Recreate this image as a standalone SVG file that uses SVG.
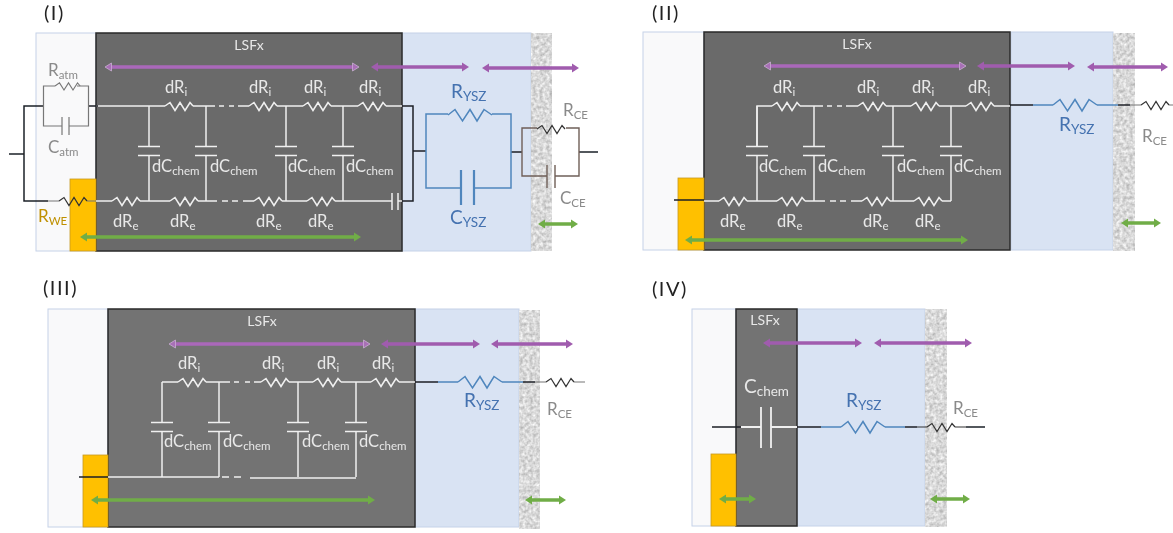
<svg xmlns="http://www.w3.org/2000/svg" width="1173" height="533" viewBox="0 0 1173 533">
<style>
text{font-family:Lato,"Open Sans","Liberation Sans",sans-serif}
.lbl{font-size:16.500px;fill:#e8e8e8}
.sub{font-size:11.500px}
.ttl{font-size:20px;fill:#222;letter-spacing:1.500px}
.lsf{font-size:14px;fill:#e8e8e8;text-anchor:middle}
.gr{font-size:17px;fill:#8a8a8a}
.bl{font-size:19px;fill:#4472b0}
.bs{font-size:13.500px}
.left{fill:#f9f9fa;stroke:#c5d2e8;stroke-width:1}
.lsfx{fill:#6b6b6b;stroke:#2a2a2a;stroke-width:1.5}
.ysz{fill:#d9e3f3;stroke:#c5d2e8;stroke-width:1}
.ce{fill:#ddd;filter:url(#porous)}
.au{fill:#ffc000;stroke:#c79a20;stroke-width:.8}
.w,.k,.b,.br,.g,.bk{fill:none;stroke-linejoin:miter}
.w{stroke:#f0f0f0;stroke-width:1.500}
.k{stroke:#1c1f26;stroke-width:1.500}
.b{stroke:#4f86bd;stroke-width:1.500}
.br{stroke:#6f5f58;stroke-width:1.400}
.g{stroke:#777;stroke-width:1.200}
.bk{stroke:#333;stroke-width:1.200}
.pu{stroke:#a05cae;stroke-width:3.500;marker-start:url(#hp);marker-end:url(#hp)}
.pl{stroke:#aa68ba;stroke-width:3.500;marker-start:url(#hpl);marker-end:url(#hpl)}
.gn{stroke:#70ad47;stroke-width:3.500;marker-start:url(#hg);marker-end:url(#hg)}
</style>
<defs>
<filter id="porous" x="0" y="0" width="100%" height="100%" color-interpolation-filters="sRGB">
<feTurbulence type="fractalNoise" baseFrequency="0.3" numOctaves="2" seed="4"/>
<feColorMatrix type="matrix" values="0.4 0 0 0 0.65 0.4 0 0 0 0.65 0.4 0 0 0 0.65 0 0 0 0 1"/>
</filter>
<filter id="soft" x="0" y="0" width="100%" height="100%"><feGaussianBlur stdDeviation="0.35"/></filter>
<marker id="hp" markerUnits="userSpaceOnUse" markerWidth="8" markerHeight="10" refX="1" refY="5" orient="auto-start-reverse"><path d="M0 .5L7 5L0 9.500z" fill="#a05cae"/></marker>
<marker id="hpl" markerUnits="userSpaceOnUse" markerWidth="8" markerHeight="10" refX="1" refY="5" orient="auto-start-reverse"><path d="M0.500 1L7 5L0.500 9z" fill="#a870b6" stroke="#c9aed2" stroke-width=".8"/></marker>
<marker id="hg" markerUnits="userSpaceOnUse" markerWidth="8" markerHeight="10" refX="1" refY="5" orient="auto-start-reverse"><path d="M0 .5L7 5L0 9.500z" fill="#70ad47"/></marker>
<path id="r" d="M0 0L5 -3.500L10 4.500L15 -3.500L20 4.500L25 -3.500L28 0"/>
<path id="rb" d="M0 0L7 -5.500L14.500 6L22 -5.500L29 6L36 -5.500L44 0"/>
<path id="c" d="M0 0V40.500M-11 40.500H11M-11 49.500H11M0 49.500V95"/>
</defs>
<rect width="1173" height="533" fill="#fff"/>
<g filter="url(#soft)">

<g id="panel-1">
<rect class="left" x="36" y="33" width="60" height="218"/>
<rect class="ysz" x="402" y="33" width="129" height="218"/>
<rect class="ce" x="531" y="33" width="21" height="218"/>
<rect class="lsfx" x="96" y="33" width="306" height="218"/>
<rect class="au" x="70" y="179" width="26" height="72"/>
<text class="ttl" x="44" y="20">(I)</text>
<text class="lsf" x="249" y="50">LSFx</text>
<text class="gr" x="48" y="76">R<tspan class="sub" dy="3">atm</tspan></text>
<text class="gr" x="48" y="153">C<tspan class="sub" dy="3">atm</tspan></text>
<text x="38" y="222" style="font-size:17px;fill:#bf9000">R<tspan class="sub" dy="3">WE</tspan></text>
<text class="lbl" x="165" y="93">dR<tspan class="sub" dy="3">i</tspan></text>
<text class="lbl" x="249" y="93">dR<tspan class="sub" dy="3">i</tspan></text>
<text class="lbl" x="304" y="93">dR<tspan class="sub" dy="3">i</tspan></text>
<text class="lbl" x="359" y="93">dR<tspan class="sub" dy="3">i</tspan></text>
<text class="lbl" x="113" y="227">dR<tspan class="sub" dy="3">e</tspan></text>
<text class="lbl" x="170" y="227">dR<tspan class="sub" dy="3">e</tspan></text>
<text class="lbl" x="256" y="227">dR<tspan class="sub" dy="3">e</tspan></text>
<text class="lbl" x="308" y="227">dR<tspan class="sub" dy="3">e</tspan></text>
<text class="lbl" x="152" y="172">dC<tspan class="sub" dy="3">chem</tspan></text>
<text class="lbl" x="210" y="172">dC<tspan class="sub" dy="3">chem</tspan></text>
<text class="lbl" x="288" y="172">dC<tspan class="sub" dy="3">chem</tspan></text>
<text class="lbl" x="346" y="172">dC<tspan class="sub" dy="3">chem</tspan></text>
<text class="bl" x="451" y="98">R<tspan class="bs" dy="3">YSZ</tspan></text>
<text class="bl" x="450" y="224">C<tspan class="bs" dy="3">YSZ</tspan></text>
<text class="gr" x="563" y="116">R<tspan class="sub" dy="3">CE</tspan></text>
<text class="gr" x="560" y="204">C<tspan class="sub" dy="3">CE</tspan></text>
</g>

<g id="panel-2">
<rect class="left" x="643" y="32" width="61" height="218"/>
<rect class="ysz" x="1011" y="32" width="102" height="218"/>
<rect class="ce" x="1113" y="33" width="22" height="218"/>
<rect class="lsfx" x="704" y="32" width="306" height="218"/>
<rect class="au" x="678" y="178" width="26" height="72"/>
<text class="ttl" x="652" y="20">(II)</text>
<text class="lsf" x="857" y="49">LSFx</text>
<text class="lbl" x="773" y="93">dR<tspan class="sub" dy="3">i</tspan></text>
<text class="lbl" x="857" y="93">dR<tspan class="sub" dy="3">i</tspan></text>
<text class="lbl" x="912" y="93">dR<tspan class="sub" dy="3">i</tspan></text>
<text class="lbl" x="968" y="93">dR<tspan class="sub" dy="3">i</tspan></text>
<text class="lbl" x="720" y="227">dR<tspan class="sub" dy="3">e</tspan></text>
<text class="lbl" x="777" y="227">dR<tspan class="sub" dy="3">e</tspan></text>
<text class="lbl" x="863" y="227">dR<tspan class="sub" dy="3">e</tspan></text>
<text class="lbl" x="915" y="227">dR<tspan class="sub" dy="3">e</tspan></text>
<text class="lbl" x="759" y="172">dC<tspan class="sub" dy="3">chem</tspan></text>
<text class="lbl" x="818" y="172">dC<tspan class="sub" dy="3">chem</tspan></text>
<text class="lbl" x="897" y="172">dC<tspan class="sub" dy="3">chem</tspan></text>
<text class="lbl" x="954" y="172">dC<tspan class="sub" dy="3">chem</tspan></text>
<text class="bl" x="1059" y="131">R<tspan class="bs" dy="3">YSZ</tspan></text>
<text class="gr" x="1142" y="142">R<tspan class="sub" dy="3">CE</tspan></text>
</g>

<g id="panel-3">
<rect class="left" x="48" y="309" width="60" height="218"/>
<rect class="ysz" x="415" y="309" width="104" height="218"/>
<rect class="ce" x="519" y="310" width="21" height="219"/>
<rect class="lsfx" x="108" y="309" width="307" height="218" style="fill:#737373"/>
<rect class="au" x="83" y="455" width="25" height="72"/>
<text class="ttl" x="43" y="295">(III)</text>
<text class="lsf" x="262" y="326">LSFx</text>
<text class="lbl" x="178" y="369">dR<tspan class="sub" dy="3">i</tspan></text>
<text class="lbl" x="262" y="369">dR<tspan class="sub" dy="3">i</tspan></text>
<text class="lbl" x="317" y="369">dR<tspan class="sub" dy="3">i</tspan></text>
<text class="lbl" x="372" y="369">dR<tspan class="sub" dy="3">i</tspan></text>
<text class="lbl" x="164" y="447">dC<tspan class="sub" dy="3">chem</tspan></text>
<text class="lbl" x="223" y="447">dC<tspan class="sub" dy="3">chem</tspan></text>
<text class="lbl" x="302" y="447">dC<tspan class="sub" dy="3">chem</tspan></text>
<text class="lbl" x="359" y="447">dC<tspan class="sub" dy="3">chem</tspan></text>
<text class="bl" x="464" y="407">R<tspan class="bs" dy="3">YSZ</tspan></text>
<text class="gr" x="547" y="415">R<tspan class="sub" dy="3">CE</tspan></text>
</g>

<g id="panel-4">
<rect class="left" x="692" y="309" width="44" height="217"/>
<rect class="ysz" x="797" y="309" width="128" height="217"/>
<rect class="ce" x="925" y="309" width="22" height="218"/>
<rect class="lsfx" x="736" y="309" width="61" height="217" style="fill:#737373"/>
<rect class="au" x="711" y="454" width="25" height="72"/>
<text class="ttl" x="652" y="296">(IV)</text>
<text class="lsf" x="765" y="325">LSFx</text>
<text x="744" y="393" style="font-size:19px;fill:#e8e8e8">C<tspan class="bs" dy="3">chem</tspan></text>
<text class="bl" x="846" y="407">R<tspan class="bs" dy="3">YSZ</tspan></text>
<text class="gr" x="953" y="414">R<tspan class="sub" dy="3">CE</tspan></text>
</g>

<g id="connectors">
<!-- panel I -->
<path class="w" d="M96 106H165M193 106H215M219 106h5M229 106h5M238 106H249M277 106H303M331 106H358M386 106H402M96 201H112M140 201H170M198 201H217M222 201h6M232 201h6M243 201H254M282 201H307M335 201H392M392 193v17M398 193v17M398 201H402"/>
<g class="w"><use href="#r" x="165" y="106"/><use href="#r" x="249" y="106"/><use href="#r" x="303" y="106"/><use href="#r" x="358" y="106"/><use href="#r" x="112" y="201"/><use href="#r" x="170" y="201"/><use href="#r" x="254" y="201"/><use href="#r" x="307" y="201"/><use href="#c" x="149" y="106"/><use href="#c" x="206" y="106"/><use href="#c" x="286" y="106"/><use href="#c" x="343" y="106"/></g>
<path class="k" d="M402 106H413V201H402M413 151H426M511 152H522M579 152H598M9 154H24M43 106H24V201H48M88 106H98"/>
<path class="g" d="M43.500 106V86H55M77 86H88.500V126H69M62 126H43.500V106M88.500 86V106M48 201H59M87 201H96"/>
<path class="g" d="M62 117v18M69 117v18"/>
<g class="bk"><use href="#r" x="59" y="201"/></g>
<use href="#r" x="55" y="86" class="g" transform="translate(5.500 8.600) scale(.9)"/>
<path class="b" d="M426 151V114H448M492 114H511V188H474M461 188H426V151"/>
<use href="#rb" x="448" y="115" class="b"/>
<path class="b" style="stroke-width:2.200" d="M461 170v35M474 170v35"/>
<path class="br" d="M522 152V128H537M566 128H579V176H555M547 176H522V152M547 165v23M555 165v23"/>
<use href="#r" x="537" y="129" class="bk"/>
<!-- panel II -->
<path class="w" d="M757 146V106H772M800 106H823M827 106h5M837 106h5M846 106H858M886 106H911M939 106H966M994 106H1010M704 201H719M747 201H777M805 201H825M830 201h6M840 201h6M851 201H862M890 201H914M942 201H951"/>
<g class="w"><use href="#r" x="772" y="106"/><use href="#r" x="858" y="106"/><use href="#r" x="911" y="106"/><use href="#r" x="966" y="106"/><use href="#r" x="719" y="201"/><use href="#r" x="777" y="201"/><use href="#r" x="862" y="201"/><use href="#r" x="914" y="201"/><use href="#c" x="757" y="106"/><use href="#c" x="814" y="106"/><use href="#c" x="893" y="106"/><use href="#c" x="951" y="106"/></g>
<path class="k" d="M674 200H704M1010 105H1033M1118 105H1130"/>
<path class="b" d="M1033 105H1053M1097 105H1118"/>
<use href="#rb" x="1053" y="105" class="b"/>
<path class="g" d="M1130 105H1141M1169 105H1173"/>
<use href="#r" x="1141" y="105" class="bk"/>
<!-- panel III -->
<path class="w" d="M162 382H178M206 382H230M234 382h5M245 382h5M254 382H261M289 382H313M341 382H371M399 382H415M108 477H219M222 477h7M234 477h7M250 478H356"/>
<g class="w"><use href="#r" x="178" y="382"/><use href="#r" x="261" y="382"/><use href="#r" x="313" y="382"/><use href="#r" x="371" y="382"/><use href="#c" x="162" y="382"/><use href="#c" x="219" y="382"/><use href="#c" x="298" y="382"/><use href="#c" x="356" y="382"/></g>
<path class="k" d="M79 477H108M415 382H438M523 382H535"/>
<path class="b" d="M438 382H458M502 382H523"/>
<use href="#rb" x="458" y="382" class="b"/>
<path class="g" d="M535 382H546M574 382H585"/>
<use href="#r" x="546" y="382" class="bk"/>
<!-- panel IV -->
<path class="k" d="M712 427H741M797 427H821M905 427H917M966 427H985"/>
<path class="w" style="stroke-width:1.800" d="M741 427H761M771 427H797M761 407v41M771 407v41"/>
<path class="b" d="M821 427H841M885 427H905"/>
<use href="#rb" x="841" y="427" class="b"/>
<path class="bk" d="M917 427H927M955 427H966"/>
<use href="#r" x="927" y="427" class="bk"/>
<!-- transport arrows -->
<line class="pl" x1="111" y1="67" x2="353" y2="67"/>
<line class="pu" x1="377" y1="67" x2="463" y2="67"/>
<line class="pu" x1="488" y1="68" x2="573" y2="68"/>
<line class="gn" x1="86" y1="237" x2="355" y2="237"/>
<line class="gn" x1="544" y1="224" x2="572" y2="224"/>
<line class="pl" x1="770" y1="66" x2="960" y2="66"/>
<line class="pu" x1="983" y1="66" x2="1069" y2="66"/>
<line class="pu" x1="1093" y1="67" x2="1162" y2="67"/>
<line class="gn" x1="691" y1="240" x2="962" y2="240"/>
<line class="gn" x1="1127" y1="223" x2="1155" y2="223"/>
<line class="pl" x1="175" y1="344" x2="364" y2="344"/>
<line class="pu" x1="387" y1="344" x2="474" y2="344"/>
<line class="pu" x1="497" y1="344" x2="567" y2="344"/>
<line class="gn" x1="97" y1="500" x2="369" y2="500"/>
<line class="gn" x1="531" y1="500" x2="560" y2="500"/>
<line class="pu" x1="769" y1="343" x2="856" y2="343"/>
<line class="pu" x1="880" y1="343" x2="966" y2="343"/>
<line class="gn" x1="725" y1="499" x2="750" y2="499"/>
<line class="gn" x1="936" y1="499" x2="964" y2="499"/>
</g>
</g>
</svg>
